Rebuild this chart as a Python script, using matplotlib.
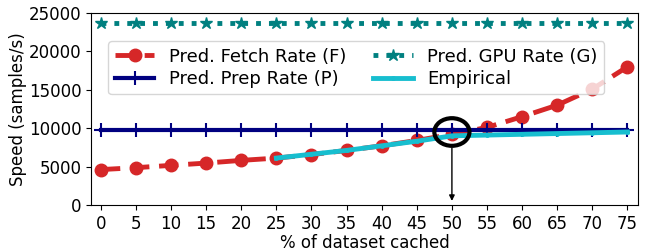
import matplotlib
matplotlib.use("Agg")
import matplotlib.pyplot as plt
from matplotlib.patches import Ellipse

# data
cached = [0, 5, 10, 15, 20, 25, 30, 35, 40, 45, 50, 55, 60, 65, 70, 75]
fetch = [4600, 4850, 5150, 5450, 5800, 6100, 6550, 7100, 7700, 8400, 9200, 10100, 11500, 13000, 15100, 18000]
prep = [9700] * len(cached)
gpu = [23700] * len(cached)
emp_x = [25, 30, 35, 40, 45, 50, 55, 60, 65, 70, 75]
emp = [6100, 6600, 7100, 7700, 8300, 9000, 9100, 9200, 9300, 9400, 9500]

fig = plt.figure(figsize=(6.5, 2.52), dpi=100)
ax = fig.add_axes([0.14, 0.187, 0.8415, 0.761])

ax.plot(cached, fetch, color='#d62728', ls='--', lw=3.5, marker='o', ms=9,
        dashes=(4, 2), label='Pred. Fetch Rate (F)')
ax.plot(cached, prep, color='#000080', lw=3, marker='+', ms=10, mew=1.5,
        label='Pred. Prep Rate (P)')
ax.plot(cached, gpu, color='#008080', ls=':', lw=3.5, marker='*', ms=9,
        label='Pred. GPU Rate (G)')
ax.plot(emp_x, emp, color='#17becf', lw=3.5, marker='.', ms=5,
        label='Empirical')

# highlight the crossover point
ax.add_patch(Ellipse((50, 9500), 5.0, 3600, fill=False, ec='black', lw=3, zorder=5))
ax.annotate('', xy=(50, 150), xytext=(50, 7800),
            arrowprops=dict(arrowstyle='-|>', color='black', lw=1, mutation_scale=8))

ax.set_xlim(-1.4, 76.5)
ax.set_ylim(0, 25000)
ax.set_xticks(cached)
ax.set_yticks([0, 5000, 10000, 15000, 20000, 25000])
ax.tick_params(labelsize=12)
ax.set_xlabel('% of dataset cached', fontsize=12, labelpad=1)
ax.set_ylabel('Speed (samples/s)', fontsize=12, labelpad=1)
ax.legend(loc='upper center', bbox_to_anchor=(0.485, 0.9), ncol=2, fontsize=13,
          handlelength=2.2, columnspacing=1.5, borderpad=0.35, labelspacing=0.25)

fig.savefig('out.png', dpi=100)
